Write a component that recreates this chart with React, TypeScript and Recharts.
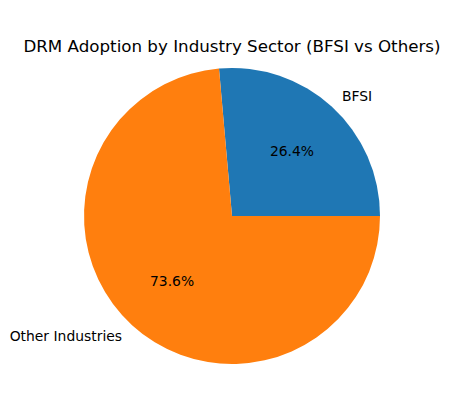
import { PieChart, Pie, Cell } from "recharts"

const sectors = ["BFSI", "Other Industries"]
const shares = [26.4, 73.6]
const colors = ["#1f77b4", "#ff7f0e"]

const data = sectors.map((name, i) => ({ name, value: shares[i] }))

const RAD = Math.PI / 180

function renderLabel(props: any) {
  const { cx, cy, midAngle, outerRadius, percent, name } = props
  const cos = Math.cos(-midAngle * RAD)
  const sin = Math.sin(-midAngle * RAD)
  const lx = cx + outerRadius * 1.1 * cos
  const ly = cy + outerRadius * 1.1 * sin
  const px = cx + outerRadius * 0.6 * cos
  const py = cy + outerRadius * 0.6 * sin
  return (
    <g>
      <text x={lx} y={ly} textAnchor={cos >= 0 ? "start" : "end"} dominantBaseline="central"
        fontSize={13.9} fill="#000">
        {name}
      </text>
      <text x={px} y={py} textAnchor="middle" dominantBaseline="central" fontSize={13.9} fill="#000">
        {(percent * 100).toFixed(1)}%
      </text>
    </g>
  )
}

export default function App() {
  return (
    <div style={{ position: "absolute", left: 0, top: 0, width: 449, height: 411, background: "#fff",
      fontFamily: "'DejaVu Sans', sans-serif" }}>
      <PieChart width={449} height={411} margin={{ top: 0, right: 0, bottom: 0, left: 0 }}>
        <text x={232} y={46} textAnchor="middle" dominantBaseline="central" fontSize={16.7} fill="#000">
          DRM Adoption by Industry Sector (BFSI vs Others)
        </text>
        <Pie
          data={data}
          dataKey="value"
          nameKey="name"
          cx={232}
          cy={216}
          outerRadius={148}
          startAngle={0}
          endAngle={360}
          stroke="none"
          label={renderLabel}
          labelLine={false}
          isAnimationActive={false}
        >
          {data.map((entry, index) => (
            <Cell key={entry.name} fill={colors[index]} />
          ))}
        </Pie>
      </PieChart>
    </div>
  )
}
